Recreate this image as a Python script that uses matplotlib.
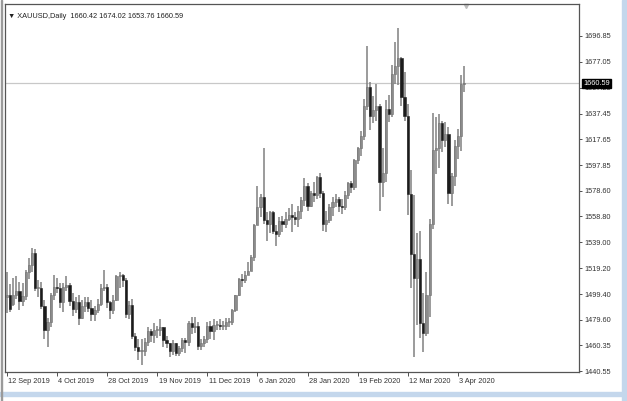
import matplotlib.pyplot as plt
import numpy as np

# daily XAUUSD bars, 12 Sep 2019 .. 7 Apr 2020
opens = [1497, 1499, 1492, 1499, 1502, 1494, 1498, 1516, 1522, 1531,
         1504, 1504, 1490, 1472, 1478, 1499, 1505, 1504, 1493, 1505,
         1506, 1494, 1488, 1493, 1481, 1490, 1493, 1489, 1484, 1487,
         1492, 1504, 1505, 1493, 1487, 1495, 1513, 1514, 1510, 1484,
         1491, 1467, 1459, 1456, 1456, 1463, 1471, 1468, 1472, 1472,
         1474, 1464, 1462, 1456, 1462, 1454, 1458, 1464, 1463, 1477,
         1474, 1475, 1460, 1462, 1465, 1475, 1471, 1476, 1476, 1475,
         1475, 1478, 1478, 1487, 1499, 1511, 1510, 1514, 1517, 1528,
         1552, 1566, 1574, 1556, 1553, 1562, 1548, 1545, 1555, 1553,
         1557, 1560, 1558, 1557, 1563, 1571, 1582, 1567, 1577, 1575,
         1589, 1577, 1553, 1556, 1566, 1570, 1572, 1567, 1566, 1575,
         1584, 1581, 1602, 1611, 1620, 1643, 1658, 1636, 1640, 1643,
         1585, 1592, 1641, 1637, 1668, 1674, 1680, 1650, 1636, 1576,
         1530, 1512, 1526, 1477, 1470, 1499, 1553, 1610, 1611, 1630,
         1617, 1622, 1577, 1590, 1613, 1620, 1660.42]
highs = [1516, 1507, 1512, 1513, 1509, 1508, 1518, 1527, 1535, 1534,
         1510, 1509, 1495, 1481, 1500, 1514, 1512, 1508, 1508, 1513,
         1508, 1500, 1497, 1499, 1495, 1497, 1497, 1495, 1490, 1496,
         1507, 1518, 1507, 1494, 1499, 1514, 1516, 1515, 1512, 1494,
         1496, 1470, 1465, 1465, 1466, 1474, 1473, 1477, 1475, 1480,
         1474, 1467, 1462, 1464, 1462, 1460, 1466, 1466, 1479, 1482,
         1482, 1478, 1465, 1467, 1478, 1479, 1480, 1479, 1480, 1479,
         1481, 1481, 1488, 1499, 1512, 1515, 1517, 1524, 1529, 1553,
         1582, 1576, 1611, 1562, 1563, 1563, 1552, 1558, 1559, 1562,
         1565, 1568, 1562, 1567, 1574, 1588, 1584, 1578, 1585, 1590,
         1592, 1578, 1563, 1568, 1574, 1576, 1574, 1572, 1578, 1585,
         1586, 1603, 1612, 1624, 1649, 1689, 1662, 1651, 1660, 1645,
         1611, 1648, 1652, 1675, 1692, 1703, 1681, 1669, 1645, 1594,
         1575, 1546, 1548, 1500, 1516, 1557, 1638, 1635, 1637, 1632,
         1631, 1627, 1592, 1617, 1626, 1667, 1674.02]
lows = [1485, 1486, 1490, 1496, 1487, 1490, 1495, 1511, 1516, 1502,
        1497, 1488, 1465, 1459, 1474, 1495, 1500, 1489, 1486, 1502,
        1490, 1483, 1485, 1476, 1480, 1486, 1486, 1479, 1479, 1485,
        1490, 1502, 1489, 1480, 1484, 1494, 1504, 1505, 1481, 1480,
        1465, 1456, 1449, 1445, 1452, 1460, 1463, 1462, 1466, 1467,
        1459, 1458, 1451, 1453, 1452, 1452, 1455, 1454, 1460, 1469,
        1470, 1457, 1457, 1459, 1462, 1465, 1464, 1472, 1472, 1472,
        1472, 1474, 1476, 1486, 1498, 1505, 1508, 1514, 1517, 1525,
        1552, 1558, 1553, 1540, 1546, 1545, 1536, 1543, 1547, 1550,
        1555, 1547, 1552, 1551, 1557, 1567, 1563, 1566, 1570, 1572,
        1573, 1548, 1547, 1554, 1559, 1566, 1562, 1561, 1564, 1572,
        1577, 1579, 1599, 1605, 1617, 1640, 1625, 1630, 1632, 1563,
        1574, 1585, 1631, 1635, 1660, 1659, 1643, 1632, 1560, 1504,
        1451, 1476, 1466, 1455, 1467, 1482, 1549, 1591, 1596, 1608,
        1612, 1568, 1567, 1582, 1603, 1609, 1653.76]
closes = [1499, 1488, 1499, 1502, 1494, 1498, 1516, 1522, 1531, 1504,
          1504, 1490, 1472, 1478, 1499, 1505, 1504, 1493, 1505, 1506,
          1494, 1488, 1493, 1481, 1490, 1493, 1489, 1484, 1487, 1492,
          1504, 1505, 1493, 1487, 1495, 1513, 1514, 1510, 1484, 1491,
          1467, 1459, 1456, 1456, 1463, 1471, 1468, 1472, 1472, 1474,
          1464, 1462, 1456, 1462, 1454, 1458, 1464, 1463, 1477, 1474,
          1475, 1460, 1462, 1465, 1475, 1471, 1476, 1476, 1475, 1475,
          1478, 1478, 1487, 1499, 1511, 1510, 1514, 1517, 1528, 1552,
          1566, 1574, 1556, 1553, 1562, 1548, 1545, 1555, 1553, 1557,
          1560, 1558, 1557, 1563, 1571, 1582, 1567, 1577, 1575, 1589,
          1577, 1553, 1556, 1566, 1570, 1572, 1567, 1566, 1575, 1584,
          1581, 1602, 1611, 1620, 1643, 1658, 1636, 1640, 1643, 1585,
          1592, 1641, 1637, 1668, 1674, 1680, 1650, 1636, 1576, 1530,
          1512, 1526, 1477, 1470, 1499, 1553, 1610, 1611, 1630, 1617,
          1622, 1577, 1590, 1613, 1620, 1660, 1660.59]

date_labels = ["12 Sep 2019", "4 Oct 2019", "28 Oct 2019", "19 Nov 2019",
               "11 Dec 2019", "6 Jan 2020", "28 Jan 2020", "19 Feb 2020",
               "12 Mar 2020", "3 Apr 2020"]
date_idx = [0, 16, 32, 48, 64, 80, 96, 112, 128, 144]

price_ticks = [1696.85, 1677.05, 1657.25, 1637.45, 1617.65, 1597.85, 1578.60,
               1558.80, 1539.00, 1519.20, 1499.40, 1479.60, 1460.35, 1440.55]
last_price = 1660.59

o = np.array(opens, float)
h = np.array(highs, float)
l = np.array(lows, float)
c = np.array(closes, float)
x = np.arange(len(c))

fig = plt.figure(figsize=(6.27, 4.01), dpi=100)
ax = fig.add_axes([5 / 627, 1 - 372 / 401, 574 / 627, 368 / 401])

up = c >= o
ax.vlines(x, l, h, color="#808080", lw=1.1, zorder=2)
body_lo = np.minimum(o, c)
body_h = np.maximum(np.abs(c - o), 0.8)
ax.bar(x[up], body_h[up], bottom=body_lo[up], width=0.7,
       color="#8c8c8c", edgecolor="#707070", lw=0.4, zorder=3)
ax.bar(x[~up], body_h[~up], bottom=body_lo[~up], width=0.7,
       color="#1c1c1c", edgecolor="#1c1c1c", lw=0.4, zorder=3)

ax.axhline(last_price, color="#c8c8c8", lw=0.9, zorder=1)

ax.set_xlim(-0.6, 182.7)
ax.set_ylim(1439.8, 1721.3)

ax.yaxis.tick_right()
ax.set_yticks(price_ticks)
ax.set_yticklabels([f"{p:.2f}" for p in price_ticks])
ax.set_xticks(date_idx)
ax.set_xticklabels([])
for i, lab in zip(date_idx, date_labels):
    ax.annotate(lab, (i, 0), xycoords=("data", "axes fraction"),
                xytext=(1, -4), textcoords="offset points",
                ha="left", va="top", fontsize=5.3, color="#333333",
                family="Liberation Sans")
ax.tick_params(axis="y", direction="out", length=2.5, width=0.6,
               colors="#333333", labelsize=5.3, pad=1.5)
ax.tick_params(axis="x", direction="out", length=3, width=0.6, colors="#333333")
for lab in ax.get_yticklabels():
    lab.set_family("Liberation Sans")
for sp in ax.spines.values():
    sp.set_color("#555555")
    sp.set_linewidth(0.9)

# current price box on the price scale, covering the tick label beneath it
ax.annotate(f"{last_price:.2f}", (1, last_price), xycoords=("axes fraction", "data"),
            xytext=(3, 0), textcoords="offset points", ha="left", va="center",
            fontsize=5.3, color="white", family="Liberation Sans", zorder=10,
            bbox=dict(boxstyle="square,pad=0.15", fc="black", ec="black"))

ax.text(0.006, 0.975, "\u25bc XAUUSD,Daily  1660.42 1674.02 1653.76 1660.59",
        transform=ax.transAxes, ha="left", va="top", fontsize=5.3,
        color="#222222", family=["Liberation Sans", "DejaVu Sans"])

# chart shift marker at the top
ax.plot([146.5], [1719.5], marker="v", ms=3, color="#bdbdbd", clip_on=False)

# window frame
fig.patches.append(plt.Rectangle((622 / 627, 0), 5 / 627, 1, transform=fig.transFigure,
                                 color="#c4d7ec", zorder=0))
fig.patches.append(plt.Rectangle((0, 5 / 401), 627 / 627, 4 / 401, transform=fig.transFigure,
                                 color="#c4d7ec", zorder=0))
fig.patches.append(plt.Rectangle((1 / 627, 0), 1.2 / 627, 1, transform=fig.transFigure,
                                 color="#9a9a9a", zorder=0))

plt.savefig("out.png", dpi=100)
